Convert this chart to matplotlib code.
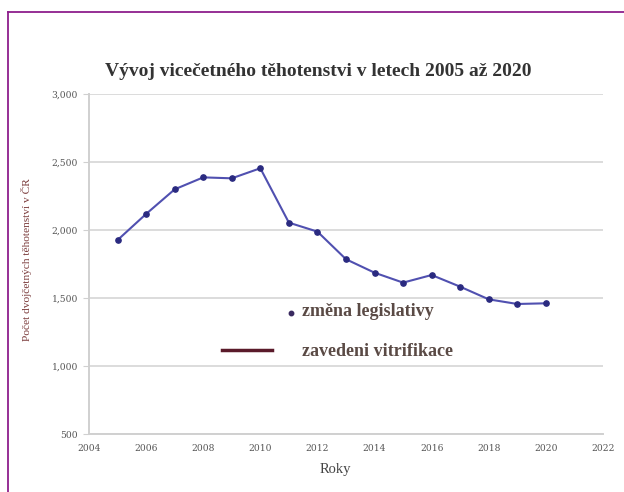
import matplotlib
matplotlib.use("Agg")
import matplotlib.pyplot as plt
from matplotlib.lines import Line2D
from matplotlib.ticker import FuncFormatter

years = [2005, 2006, 2007, 2008, 2009, 2010, 2011, 2012, 2013, 2014, 2015, 2016, 2017, 2018, 2019, 2020]
counts = [1926, 2118, 2299, 2387, 2380, 2454, 2054, 1988, 1785, 1686, 1613, 1669, 1583, 1490, 1456, 1461]
x_ticks = [2004, 2006, 2008, 2010, 2012, 2014, 2016, 2018, 2020, 2022]
y_ticks = [500, 1000, 1500, 2000, 2500, 3000]

title = "Vývoj vicečetného těhotenstvi v letech 2005 až 2020"
xlabel = "Roky"
ylabel = "Počet dvojčetných těhotenství v ČR"
legend_labels = ["změna legislativy", "zavedeni vitrifikace"]

serif = ["Liberation Serif", "DejaVu Serif"]
tick_font = ["DejaVu Serif"]

fig = plt.figure(figsize=(6.24, 4.92), dpi=100)
fig.patch.set_facecolor("white")

# purple frame (top and left)
frame_col = "#8e1f8c"
fig.add_artist(Line2D([8/624, 1.0], [1 - 12/492, 1 - 12/492], color=frame_col, lw=1.3, transform=fig.transFigure))
fig.add_artist(Line2D([8/624, 8/624], [0, 1 - 12/492], color=frame_col, lw=1.3, transform=fig.transFigure))

ax = fig.add_axes([89/624, 1 - 434/492, (603 - 89)/624, (434 - 94)/492])
ax.plot(years, counts, color="#5050b0", lw=1.5, marker="o", markersize=3.8,
        markerfacecolor="#2a2a80", markeredgecolor="#2a2a80", zorder=3)

ax.set_xlim(2004, 2022)
ax.set_ylim(500, 3000)
ax.set_xticks(x_ticks)
ax.set_yticks(y_ticks)
ax.yaxis.set_major_formatter(FuncFormatter(lambda v, p: f"{int(v):,}"))
ax.grid(axis="y", color="#dcdcdc", lw=1.4)
ax.set_axisbelow(True)
for s in ["top", "right"]:
    ax.spines[s].set_visible(False)
for s in ["left", "bottom"]:
    ax.spines[s].set_color("#d0d0d0")
    ax.spines[s].set_linewidth(1.4)
ax.tick_params(axis="y", length=4, color="#d0d0d0", labelsize=6.6, labelcolor="#555555", pad=4)
ax.tick_params(axis="x", length=0, labelsize=6.6, labelcolor="#555555", pad=7)
for lab in ax.get_xticklabels() + ax.get_yticklabels():
    lab.set_family(tick_font)

fig.text(318/624, 1 - 72/492, title, ha="center", va="center", fontsize=14,
         fontweight="bold", family=serif, color="#333333")
fig.text(335/624, 1 - 470/492, xlabel, ha="center", va="center", fontsize=10.5,
         family=serif, color="#444444")
fig.text(27/624, 1 - 260/492, ylabel, ha="center", va="center", rotation=90,
         fontsize=8.2, family=serif, color="#7a3a3a")

# annotation "legend"
fig.add_artist(Line2D([291/624], [1 - 313/492], marker="o", markersize=3.2, color="#3a2a60",
                      linestyle="none", transform=fig.transFigure))
fig.text(302/624, 1 - 312/492, legend_labels[0], ha="left", va="center", fontsize=13,
         fontweight="bold", family=serif, color="#5a4a45")
fig.add_artist(Line2D([222/624, 272/624], [1 - 350/492, 1 - 350/492], color="#5a1a2a", lw=2.5,
                      transform=fig.transFigure))
fig.text(302/624, 1 - 351/492, legend_labels[1], ha="left", va="center", fontsize=13,
         fontweight="bold", family=serif, color="#5a4a45")

fig.savefig("out.png", dpi=100, facecolor="white")
